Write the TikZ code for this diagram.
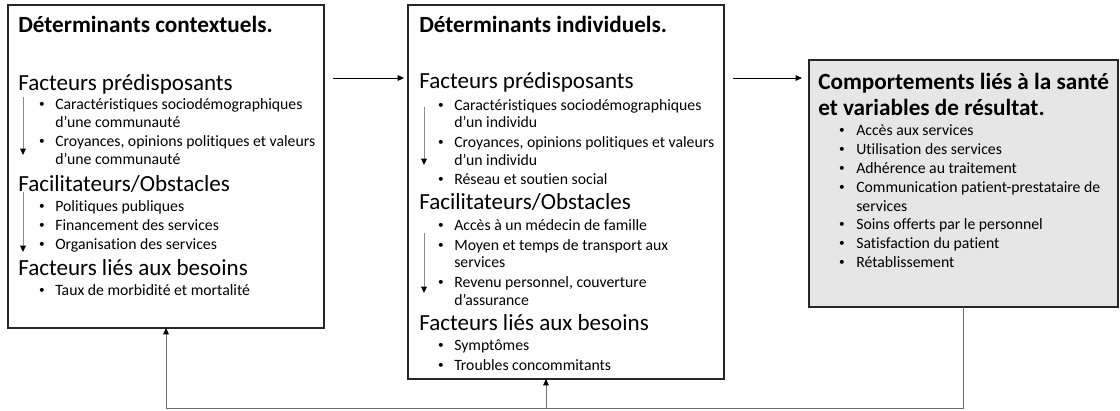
\documentclass[tikz,border=0pt]{standalone}
\usepackage{fontspec}
\setmainfont{Carlito}[Ligatures=NoCommon]
\usetikzlibrary{arrows.meta}
\definecolor{boxgray}{RGB}{231,230,230}
\definecolor{linegray}{RGB}{110,110,110}
\tikzset{
  panel/.style={draw=black!85, line width=1pt, inner sep=0pt, outer sep=0pt},
  ttl/.style={anchor=base west, inner sep=0pt, font=\fontsize{16.5}{19}\selectfont\bfseries},
  hd/.style={anchor=base west, inner sep=0pt, font=\fontsize{16.4}{19}\selectfont},
  itm/.style={anchor=base west, inner sep=0pt, font=\fontsize{11.2}{13}\selectfont},
  bul/.style={anchor=base, inner sep=0pt, font=\fontsize{8}{9}\selectfont},
  flow/.style={-{Triangle[length=4.5pt,width=4pt]}, line width=0.6pt},
  downarr/.style={draw=black!45, line width=0.6pt, -{Triangle[length=4.5pt,width=4pt,color=black]}},
  fb/.style={draw=linegray, line width=0.7pt, -{Triangle[length=4.5pt,width=4pt,color=black]}}
}
\newcommand{\bdot}{\raisebox{0.9pt}{\textbullet}}
\begin{document}
\begin{tikzpicture}[x=0.025cm,y=-0.025cm]
\useasboundingbox (0,0) rectangle (1120,410);

% contextual determinants
\node[panel, minimum width=7.9cm, minimum height=8.075cm] (ctx) at (166,166.5) {};
\node[ttl] (ctx-t) at (18,32) {Déterminants contextuels.};
\node[hd] (ctx-h1) at (18,90) {Facteurs prédisposants};
\node[itm] (ctx-l1) at (55,109) {Caractéristiques sociodémographiques};
\node[itm] (ctx-l2) at (55,127) {d’une communauté};
\node[itm] (ctx-l3) at (55,146) {Croyances, opinions politiques et valeurs};
\node[itm] (ctx-l4) at (55,164) {d’une communauté};
\node[hd] (ctx-h2) at (18,191) {Facilitateurs/Obstacles};
\node[itm] (ctx-l5) at (55,211) {Politiques publiques};
\node[itm] (ctx-l6) at (55,230) {Financement des services};
\node[itm] (ctx-l7) at (55,249) {Organisation des services};
\node[hd] (ctx-h3) at (18,275) {Facteurs liés aux besoins};
\node[itm] (ctx-l8) at (55,295) {Taux de morbidité et mortalité};
\foreach \y [count=\k] in {109,146,211,230,249,295}
  \node[bul] (ctx-b\k) at (42,\y) {\bdot};
\draw[downarr] (23,97) -- (23,155);
\draw[downarr] (23,192) -- (23,252);

% individual determinants
\node[panel, minimum width=7.9cm, minimum height=9.35cm] (ind) at (566,192) {};
\node[ttl] (ind-t) at (419,32) {Déterminants individuels.};
\node[hd] (ind-h1) at (419,88) {Facteurs prédisposants};
\node[itm] (ind-l1) at (454,110) {Caractéristiques sociodémographiques};
\node[itm] (ind-l2) at (454,127) {d’un individu};
\node[itm] (ind-l3) at (454,147) {Croyances, opinions politiques et valeurs};
\node[itm] (ind-l4) at (454,165) {d’un individu};
\node[itm] (ind-l5) at (454,184) {Réseau et soutien social};
\node[hd] (ind-h2) at (419,209) {Facilitateurs/Obstacles};
\node[itm] (ind-l6) at (454,230) {Accès à un médecin de famille};
\node[itm] (ind-l7) at (454,250) {Moyen et temps de transport aux};
\node[itm] (ind-l8) at (454,267) {services};
\node[itm] (ind-l9) at (454,287) {Revenu personnel, couverture};
\node[itm] (ind-l10) at (454,305) {d’assurance};
\node[hd] (ind-h3) at (419,330) {Facteurs liés aux besoins};
\node[itm] (ind-l11) at (454,350) {Symptômes};
\node[itm] (ind-l12) at (454,370) {Troubles concommitants};
\foreach \y [count=\k] in {110,147,184,230,250,287,350,370}
  \node[bul] (ind-b\k) at (441,\y) {\bdot};
\draw[downarr] (424,107) -- (424,165);
\draw[downarr] (424,233) -- (424,293);

% outcomes
\node[panel, fill=boxgray, minimum width=7.725cm, minimum height=6.175cm] (out) at (963.5,183.5) {};
\node[ttl] (out-t1) at (818,89) {Comportements liés à la santé};
\node[ttl] (out-t2) at (818,115) {et variables de résultat.};
\node[itm] (out-l1) at (856,135) {Accès aux services};
\node[itm] (out-l2) at (856,154) {Utilisation des services};
\node[itm] (out-l3) at (856,173) {Adhérence au traitement};
\node[itm] (out-l4) at (856,192) {Communication patient-prestataire de};
\node[itm] (out-l5) at (856,211) {services};
\node[itm] (out-l6) at (856,229) {Soins offerts par le personnel};
\node[itm] (out-l7) at (856,248) {Satisfaction du patient};
\node[itm] (out-l8) at (856,267) {Rétablissement};
\foreach \y [count=\k] in {135,154,173,192,229,248,267}
  \node[bul] (out-b\k) at (842,\y) {\bdot};

% connectors
\coordinate (lvl) at (0,78);
\coordinate (fbk) at (546,408);
\draw[flow, shorten <=6.4pt, shorten >=2.8pt] (ctx.east |- lvl) -- (ind.west |- lvl);
\draw[flow, shorten <=6.4pt, shorten >=5pt] (ind.east |- lvl) -- (out.west |- lvl);
\draw[fb] (out.south) |- (ctx.south |- fbk) -- (ctx.south);
\draw[fb] (fbk) -- (fbk |- ind.south);
\end{tikzpicture}
\end{document}
